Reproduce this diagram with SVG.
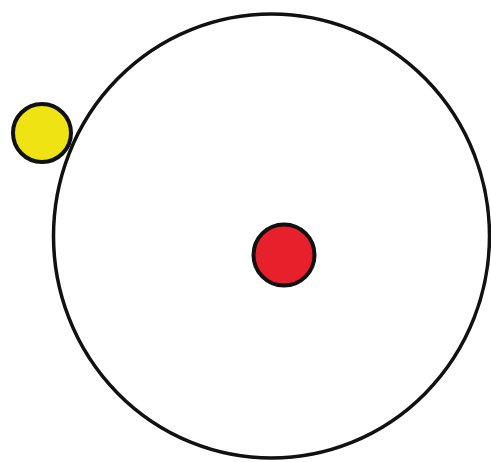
<svg xmlns="http://www.w3.org/2000/svg" width="491" height="462" viewBox="0 0 491 462">
<style>
.orbit{fill:none;stroke:#111;stroke-width:3.5}
.body{stroke:#111;stroke-width:4}
</style>
<rect width="491" height="462" fill="#fff"/>
<g id="orbit"><ellipse class="orbit" cx="271.5" cy="236" rx="218" ry="222"/></g>
<g id="planet"><circle class="body" cx="42" cy="133" r="29" fill="#f0e314"/></g>
<g id="sun"><circle class="body" cx="284" cy="255" r="30.5" fill="#e8202c"/></g>
</svg>
